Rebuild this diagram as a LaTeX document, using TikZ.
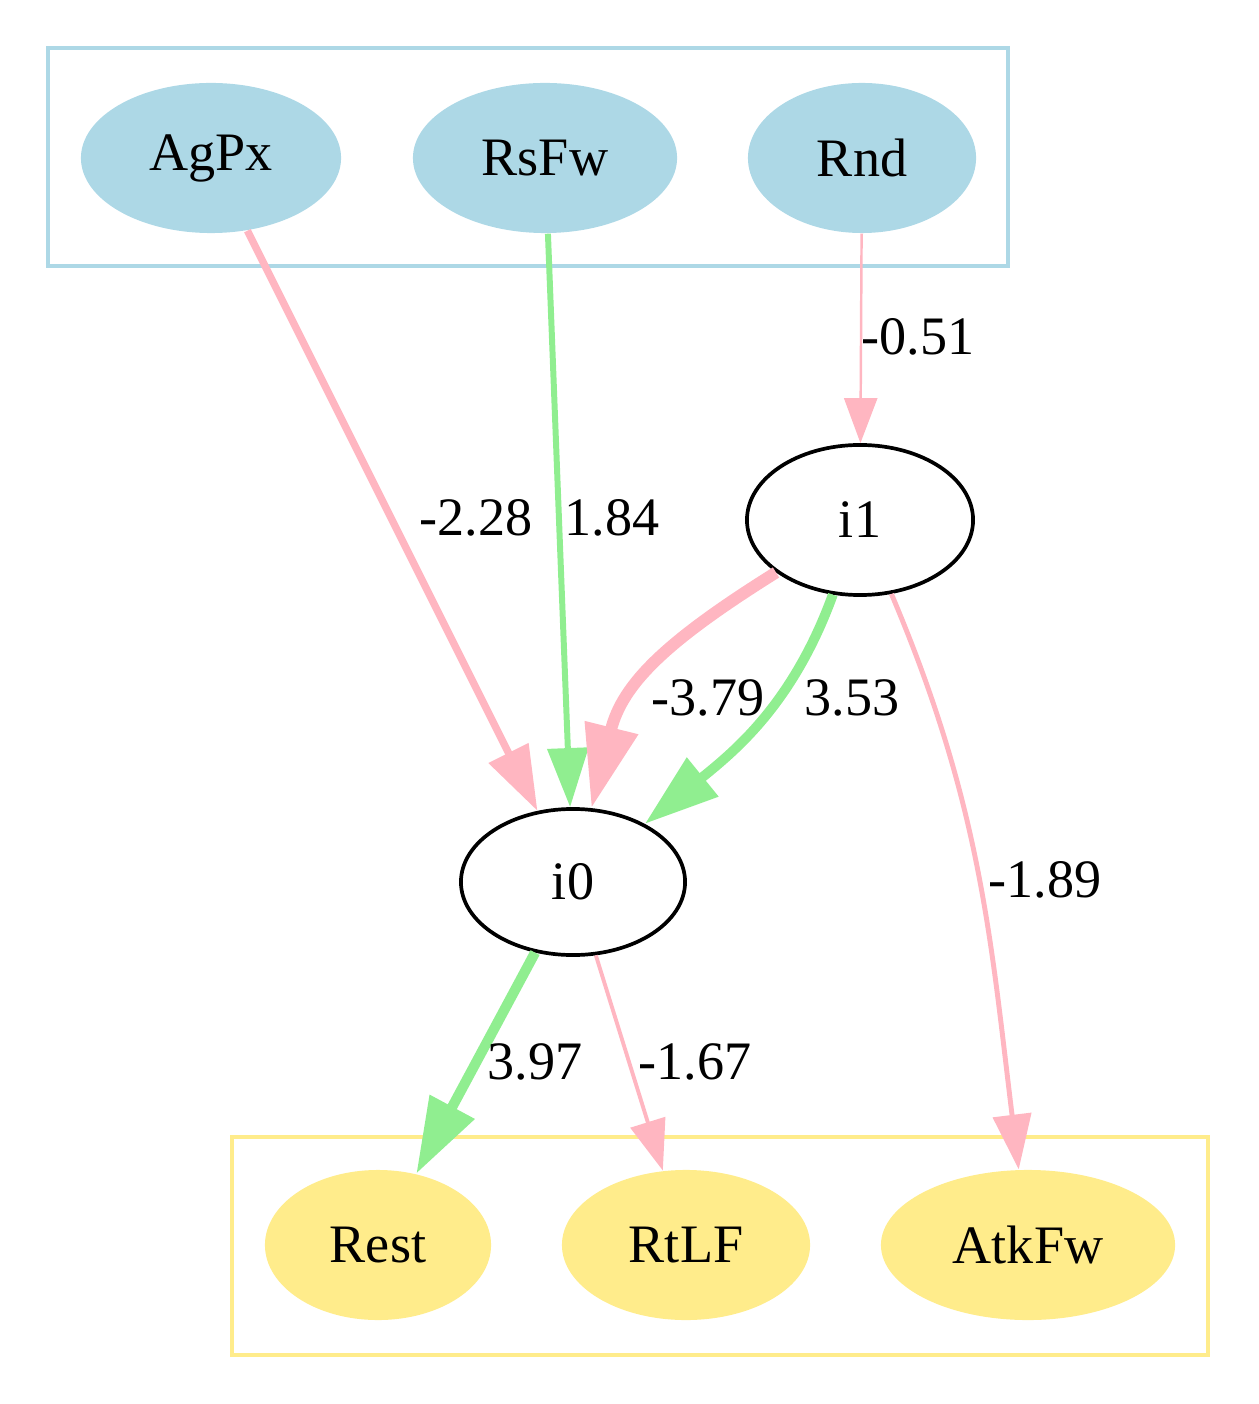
\documentclass[tikz,border=0pt]{standalone}
\usepackage{fontspec}
\setmainfont{Liberation Serif}
\usetikzlibrary{shapes.geometric,arrows.meta}
\definecolor{lblue}{HTML}{ADD8E6}
\definecolor{lpink}{HTML}{FFB6C1}
\definecolor{lgreen}{HTML}{90EE90}
\definecolor{lgold}{HTML}{FFEC8B}
\begin{document}
\begin{tikzpicture}[x=.01cm,y=-.01cm,
  every node/.style={font=\fontsize{15.4}{18}\selectfont},
  oval/.style={ellipse,inner sep=0,minimum height=1.5cm},
  srcnode/.style={oval,fill=lblue},
  hidnode/.style={oval,draw,line width=1.05pt},
  outnode/.style={oval,fill=lgold},
  posedge/.style={draw=lgreen,line width=#1,-{Triangle[length=10pt 4,width=8pt 2]}},
  negedge/.style={draw=lpink,line width=#1,-{Triangle[length=10pt 4,width=8pt 2]}}]
\useasboundingbox (0,0) rectangle (1258,1404);

% clusters
\draw [lblue,line width=.9pt] (48,48) rectangle (1008,266);
\draw [lgold,line width=.9pt] (232,1137) rectangle (1208,1355);

\node [srcnode,minimum width=2.6cm] (AgPx) at (211,158) {AgPx};
\node [srcnode,minimum width=2.64cm] (RsFw) at (545,158) {RsFw};
\node [srcnode,minimum width=2.28cm] (Rnd) at (862,158) {Rnd};

\node [hidnode,minimum width=2.26cm] (i1) at (860,520) {i1};
\node [hidnode,minimum width=2.24cm,minimum height=1.46cm] (i0) at (573,882) {i0};

\node [outnode,minimum width=2.26cm] (Rest) at (378,1245) {Rest};
\node [outnode,minimum width=2.48cm] (RtLF) at (686,1245) {RtLF};
\node [outnode,minimum width=2.94cm] (AtkFw) at (1028,1245) {AtkFw};

% edges
\draw [negedge=.7pt] (Rnd) -- (i1);
\draw [negedge=2.1pt] (AgPx) -- (i0);
\draw [posedge=1.7pt] (RsFw) -- (i0);
\draw [negedge=3.4pt] (i1) to [out=212,in=76,looseness=1.1] (i0);
\draw [posedge=2.8pt] (i1) to [out=250,in=39] (i0);
\draw [negedge=1.4pt] (i1) to [out=293,in=97] (AtkFw);
\draw [posedge=2.9pt] (i0) -- (Rest);
\draw [negedge=1.1pt] (i0) -- (RtLF);

% weights
\node (wRnd) at (918,337) {-0.51};
\node (wAgPx) at (476,518) {-2.28};
\node (wRsFw) at (612,518) {1.84};
\node (wNeg) at (708,698) {-3.79};
\node (wPos) at (852,698) {3.53};
\node (wAtkFw) at (1045,880) {-1.89};
\node (wRest) at (535,1062) {3.97};
\node (wRtLF) at (695,1062) {-1.67};
\end{tikzpicture}
\end{document}
